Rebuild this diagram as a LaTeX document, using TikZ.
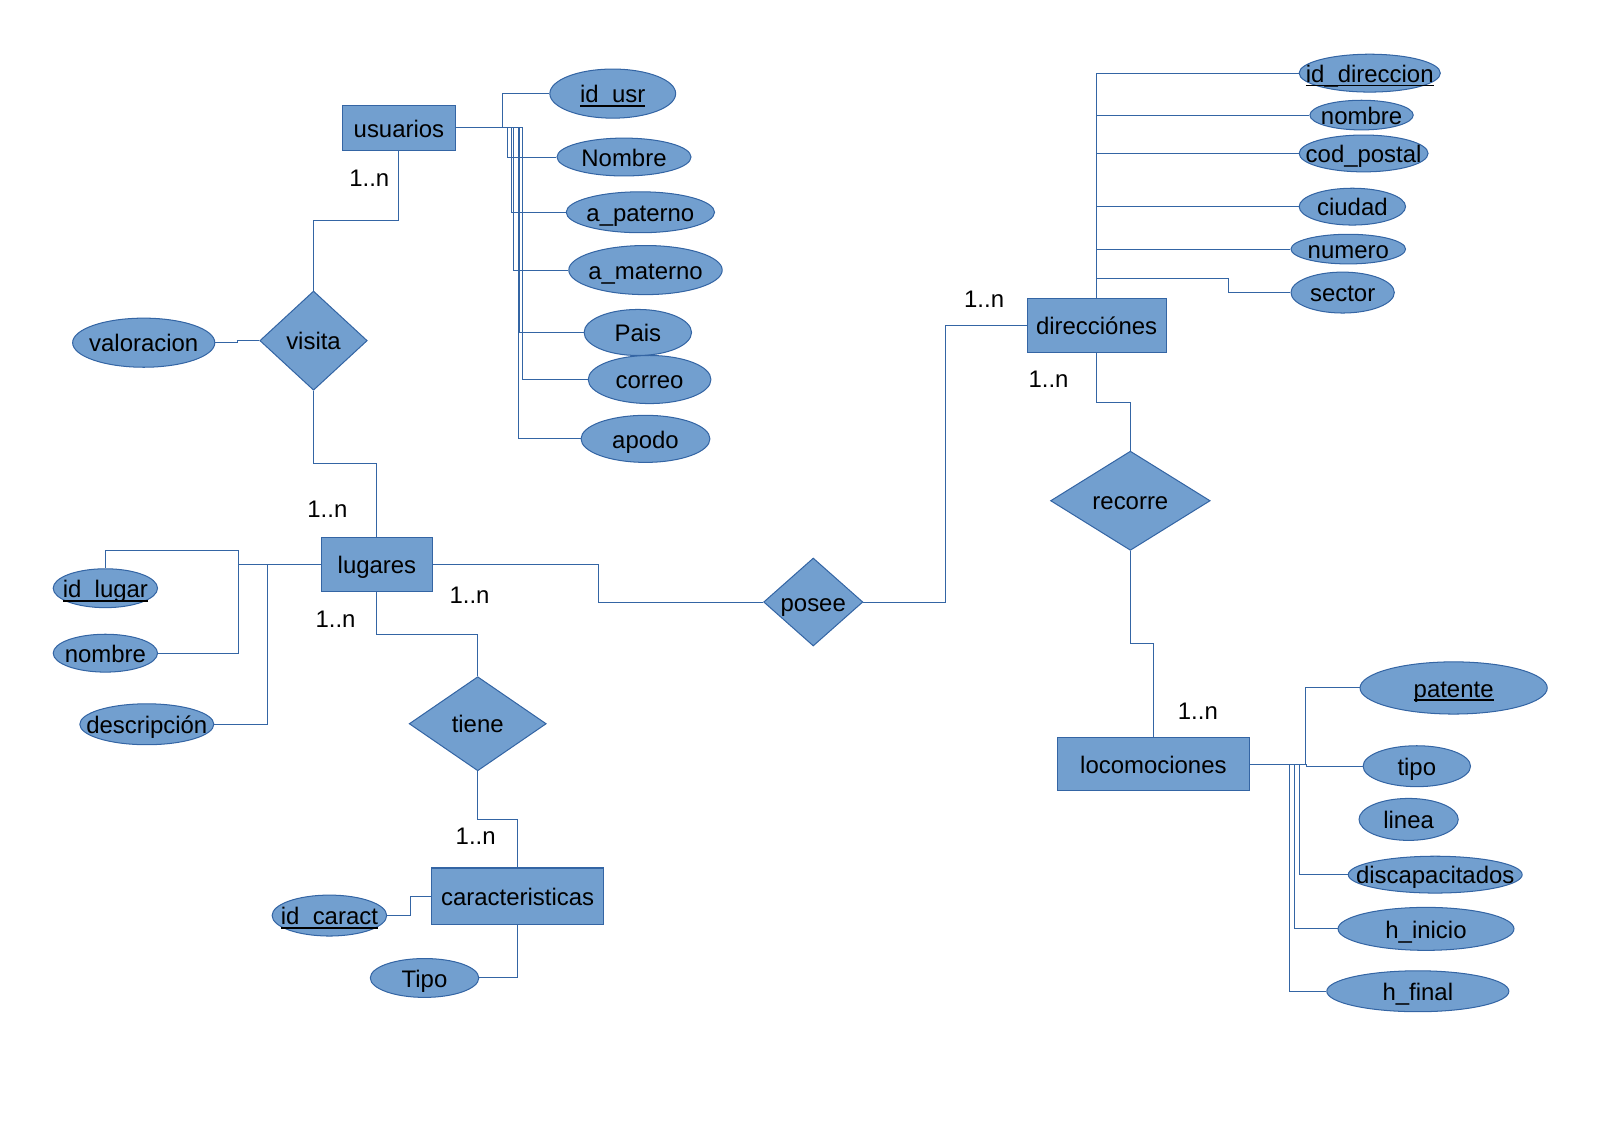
\documentclass[tikz,border=0pt]{standalone}
\usepackage{fontspec}
\setmainfont{Liberation Sans}
\usetikzlibrary{shapes.geometric}
\definecolor{erfill}{HTML}{729FCF}
\definecolor{erline}{HTML}{3465A4}
% underlined key attribute
\newcommand\pkey[1]{\setbox0\hbox{#1}\rlap{\rule[-4pt]{\wd0}{1.8pt}}\box0}

\begin{document}
\begin{tikzpicture}[
    x=1pt, y=-1pt,
    base/.style={draw=erline, fill=erfill, line width=1pt, inner sep=0pt, text=black, text height=18pt, text depth=0pt, font=\fontsize{23.4}{28}\selectfont},
    entity/.style={base, rectangle},
    relation/.style={base, diamond},
    attr/.style={base, ellipse, execute at begin node={\hbox to 0pt\bgroup\hss}, execute at end node={\hss\egroup}},
    card/.style={inner sep=0pt, text height=18pt, text depth=0pt, font=\fontsize{23.4}{28}\selectfont},
    link/.style={draw=erline, line width=1pt}
]
\useasboundingbox (0,0) rectangle (1568,1108.5);

% Entities
\node[entity, minimum width=110, minimum height=44] (usuarios) at (390,125) {usuarios};
\node[entity, minimum width=109, minimum height=53] (lugares) at (368.5,551.5) {lugares};
\node[entity, minimum width=136, minimum height=52.5] (direcciones) at (1072,318) {direcciónes};
\node[entity, minimum width=187, minimum height=52] (locomociones) at (1127.5,747) {locomociones};
\node[entity, minimum width=168.5, minimum height=55] (caracteristicas) at (506,876) {caracteristicas};

% Relations
\node[relation, minimum width=105, minimum height=97] (visita) at (306.5,333) {visita};
\node[relation, minimum width=97, minimum height=86] (posee) at (795,588.5) {posee};
\node[relation, minimum width=134, minimum height=92] (tiene) at (467,707.5) {tiene};
\node[relation, minimum width=156, minimum height=97] (recorre) at (1105,489.5) {recorre};

% Attributes of usuarios
\node[attr, minimum width=123, minimum height=48] (idusr) at (599,91.5) {\pkey{id\_usr}};
\node[attr, minimum width=131, minimum height=37] (nombreusr) at (610,153.5) {Nombre};
\node[attr, minimum width=145, minimum height=40] (apaterno) at (626,207.5) {a\_paterno};
\node[attr, minimum width=150, minimum height=48] (amaterno) at (631,264) {a\_materno};
\node[attr, minimum width=105, minimum height=45] (pais) at (623.5,325) {Pais};
\node[attr, minimum width=120, minimum height=47] (correo) at (635,371) {correo};
\node[attr, minimum width=126, minimum height=46] (apodo) at (631,429) {apodo};

% Attribute of visita
\node[attr, minimum width=139, minimum height=48] (valoracion) at (140.5,335) {valoracion};

% Attributes of lugares
\node[attr, minimum width=102, minimum height=38] (idlugar) at (103,575) {\pkey{id\_lugar}};
\node[attr, minimum width=102, minimum height=37] (nombrelugar) at (103,638.5) {nombre};
\node[attr, minimum width=131, minimum height=40] (descripcion) at (143.5,708) {descripción};

% Attributes of direcciones
\node[attr, minimum width=138, minimum height=37] (iddireccion) at (1339,71.5) {\pkey{id\_direccion}};
\node[attr, minimum width=101, minimum height=29] (nombredir) at (1331,112.5) {nombre};
\node[attr, minimum width=126, minimum height=36] (codpostal) at (1333,150) {cod\_postal};
\node[attr, minimum width=104, minimum height=36] (ciudad) at (1322,202) {ciudad};
\node[attr, minimum width=112, minimum height=29] (numero) at (1318,243.5) {numero};
\node[attr, minimum width=101, minimum height=40] (sector) at (1312.5,286) {sector};

% Attributes of locomociones
\node[attr, minimum width=183, minimum height=51] (patente) at (1421,672.5) {\pkey{patente}};
\node[attr, minimum width=105, minimum height=40] (tipoloc) at (1385,749) {tipo};
\node[attr, minimum width=97, minimum height=41] (linea) at (1377,801) {linea};
\node[attr, minimum width=170, minimum height=36] (discapacitados) at (1403,855) {discapacitados};
\node[attr, minimum width=172, minimum height=42] (hinicio) at (1394,908) {h\_inicio};
\node[attr, minimum width=178, minimum height=40] (hfinal) at (1386,969) {h\_final};

% Attributes of caracteristicas
\node[attr, minimum width=112, minimum height=40] (idcaract) at (322,895) {\pkey{id\_caract}};
\node[attr, minimum width=106, minimum height=38] (tipocar) at (415,956) {Tipo};

% Cardinalities
\node[card] (cardusr) at (361,173) {1..n};
\node[card] (cardlugvis) at (320,497) {1..n};
\node[card] (cardlugpos) at (459,581) {1..n};
\node[card] (cardlugtie) at (328,604) {1..n};
\node[card] (carddirpos) at (962,292) {1..n};
\node[card] (carddirrec) at (1025,370) {1..n};
\node[card] (cardloc) at (1171,694) {1..n};
\node[card] (cardcar) at (465,817) {1..n};

% usuarios -- attributes
\draw[link] (usuarios.east) -- ++(46,0) |- (idusr.west);
\draw[link] (usuarios.east) -- ++(51,0) |- (nombreusr.west);
\draw[link] (usuarios.east) -- ++(54.5,0) |- (apaterno.west);
\draw[link] (usuarios.east) -- ++(56,0) |- (amaterno.west);
\draw[link] (usuarios.east) -- ++(62.5,0) |- (pais.west);
\draw[link] (usuarios.east) -- ++(65,0) |- (correo.west);
\draw[link] (usuarios.east) -- ++(61.5,0) |- (apodo.west);

% usuarios -- visita -- lugares
\draw[link] (usuarios.south) -- ++(0,68) -| (visita.north);
\draw[link] (valoracion.east) -- ++(22,0) |- (visita.west);
\draw[link] (visita.south) -- ++(0,71.5) -| (lugares.north);

% lugares -- attributes
\draw[link] (lugares.west) -- ++(-80.5,0) -- ++(0,-13) -| (idlugar.north);
\draw[link] (lugares.west) -- ++(-80.5,0) |- (nombrelugar.east);
\draw[link] (lugares.west) -- ++(-52,0) |- (descripcion.east);

% lugares -- posee -- direcciones
\draw[link] (lugares.east) -- ++(162,0) |- (posee.west);
\draw[link] (posee.east) -- ++(80.5,0) |- (direcciones.west);

% direcciones -- attributes
\draw[link] (direcciones.north) |- (iddireccion.west);
\draw[link] (direcciones.north) |- (nombredir.west);
\draw[link] (direcciones.north) |- (codpostal.west);
\draw[link] (direcciones.north) |- (ciudad.west);
\draw[link] (direcciones.north) |- (numero.west);
\draw[link] (direcciones.north) -- ++(0,-19) -- ++(128.5,0) |- (sector.west);

% direcciones -- recorre -- locomociones
\draw[link] (direcciones.south) -- ++(0,48.5) -| (recorre.north);
\draw[link] (recorre.south) -- ++(0,91) -| (locomociones.north);

% locomociones -- attributes
\draw[link] (locomociones.east) -- ++(55,0) |- (patente.west);
\draw[link] (locomociones.east) -- ++(56,0) |- (tipoloc.west);
\draw[link] (locomociones.east) -- ++(49,0) |- (discapacitados.west);
\draw[link] (locomociones.east) -- ++(44,0) |- (hinicio.west);
\draw[link] (locomociones.east) -- ++(39,0) |- (hfinal.west);

% lugares -- tiene -- caracteristicas
\draw[link] (lugares.south) -- ++(0,42) -| (tiene.north);
\draw[link] (tiene.south) -- ++(0,47) -| (caracteristicas.north);

% caracteristicas -- attributes
\draw[link] (idcaract.east) -- ++(23,0) |- (caracteristicas.west);
\draw[link] (caracteristicas.south) |- (tipocar.east);

\end{tikzpicture}
\end{document}
